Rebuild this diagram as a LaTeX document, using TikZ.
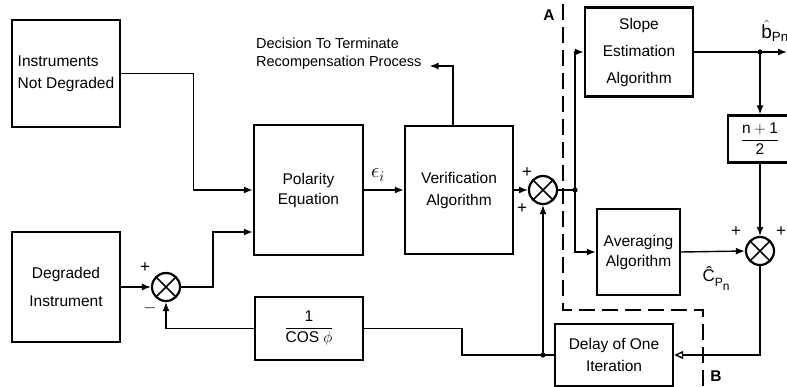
\documentclass[tikz,border=0pt]{standalone}
\usepackage{fix-cm}
\usepackage{fontspec}
\setmainfont{Liberation Sans}
\setsansfont{Liberation Sans}
\usetikzlibrary{arrows.meta, positioning}

\begin{document}
\begin{tikzpicture}[
  x=1pt, y=-1pt,
  font=\fontsize{15.5}{20}\selectfont,
  blk/.style={draw, line width=2.4pt, align=center, inner sep=2pt},
  sum/.style={circle, draw, line width=2.2pt, minimum size=28pt, inner sep=0pt,
    path picture={\draw[line width=1.6pt] (path picture bounding box.north west) -- (path picture bounding box.south east)
      (path picture bounding box.north east) -- (path picture bounding box.south west);}},
  arr/.style={-{Latex[length=9pt, width=7pt]}, line width=1.4pt},
  ln/.style={line width=1.4pt},
  sgn/.style={inner sep=0pt, font=\fontsize{17}{17}\selectfont},
  lbl/.style={inner sep=0pt, font=\fontsize{19}{19}\selectfont}
]
  \useasboundingbox (0,0) rectangle (787,387);

  \node[blk, align=left, minimum width=108pt, minimum height=107pt] (ND) at (66,73.5) {Instruments\\[2pt]Not Degraded};
  \node[blk, minimum width=108pt, minimum height=110pt] (DI) at (66,287) {Degraded\\[8pt]Instrument};
  \node[blk, minimum width=109pt, minimum height=130pt] (PE) at (308.5,190) {Polarity\\Equation};
  \node[blk, minimum width=108pt, minimum height=63pt] (CB) at (309,328.5) {$\displaystyle\frac{\mathsf{1}}{\mathsf{COS}\ \phi}$};
  \node[blk, minimum width=108pt, minimum height=128pt] (VA) at (459,190) {Verification\\[2pt]Algorithm};
  \node[blk, minimum width=108pt, minimum height=89pt] (SE) at (639,52) {Slope\\[7pt]Estimation\\[7pt]Algorithm};
  \node[blk, minimum width=83pt, minimum height=86pt] (AV) at (638.5,252) {Averaging\\Algorithm};
  \node[blk, minimum width=118pt, minimum height=62pt] (DL) at (614,355) {Delay of One\\[2pt]Iteration};
  \node[blk, minimum width=64pt, minimum height=47pt] (HF) at (760,139) {$\displaystyle\frac{\mathsf{n+1}}{\mathsf{2}}$};

  \node[sum] (S1) at (166,287) {};
  \node[sum] (S2) at (543,190) {};
  \node[sum] (S3) at (760,251) {};

  \node[sgn] (p1) at ([shift={(-21pt,19pt)}]S1.center) {+};
  \node[sgn] (m1) at ([shift={(-16pt,-21pt)}]S1.center) {$-$};
  \node[sgn] (p2) at ([shift={(-16pt,17pt)}]S2.center) {+};
  \node[sgn] (p3) at ([shift={(-21pt,-19pt)}]S2.center) {+};
  \node[sgn] (p4) at ([shift={(-24pt,19pt)}]S3.center) {+};
  \node[sgn] (p5) at ([shift={(21pt,19pt)}]S3.center) {+};

  \node[anchor=west, align=left, inner sep=0pt, font=\fontsize{14.5}{18}\selectfont] (DT) at (256,54) {Decision To Terminate\\Recompensation Process};
  \node[lbl, font=\fontsize{21}{21}\selectfont] (eps) at (378,175) {$\epsilon_i$};
  \node[lbl] (bh) at (775,31) {$\hat{\mathsf{b}}_{\mathsf{Pn}}$};
  \node[lbl, font=\fontsize{17}{17}\selectfont] (ch) at (716,279) {Ĉ\raisebox{-5pt}{\fontsize{12}{12}\selectfont P\raisebox{-4pt}{n}}};
  \node[font=\bfseries\fontsize{15.5}{20}\selectfont] (A) at (549,15) {A};
  \node[font=\bfseries\fontsize{15.5}{20}\selectfont] (B) at (716,376) {B};

  \coordinate (J1) at (575,190);
  \coordinate (J2) at (S2 |- DL.west);
  \coordinate (J3) at (SE.east -| HF.north);
  \coordinate (bout) at (787,52);

  \draw[arr] (ND.east) -- ++(72,0) |- (PE.west);
  \draw[arr] (DI.east) -- (S1.west);
  \draw[arr] (S1.east) -- ++(32,0) |- ([yshift=-42pt]PE.west);
  \draw[arr] (CB.west) -| (S1.south);
  \draw[arr] (PE.east) -- (VA.west);
  \draw[arr] (VA.east) -- (S2.west);
  \draw[arr] ([xshift=-6pt]VA.north) |- ([shift={(8pt,-12pt)}]DT.east);
  \draw[ln] (S2.east) -- (J1);
  \draw[arr] (J1) |- (SE.west);
  \draw[arr] (J1) |- (AV.west);
  \draw[ln] (SE.east) -- (J3);
  \draw[arr] (J3) -- (bout);
  \draw[arr] (J3) -- (HF.north);
  \draw[arr] (HF.south) -- (S3.north);
  \draw[arr] (AV.east) -- (S3.west);
  \draw[-{Triangle[open, length=9pt, width=8pt]}, line width=1.4pt] (S3.south) |- (DL.east);
  \draw[ln] (DL.west) -- (J2) -- ++(-81,0) |- (CB.east);
  \draw[arr] (J2) -- (S2.south);
  \fill (J1) circle (2.6pt) (J2) circle (2.6pt) (J3) circle (2.6pt);

  \draw[line width=1.4pt, dash pattern=on 16pt off 7pt] (563,4) -- (563,310) -- (703,310) -- (703,387);
\end{tikzpicture}
\end{document}
